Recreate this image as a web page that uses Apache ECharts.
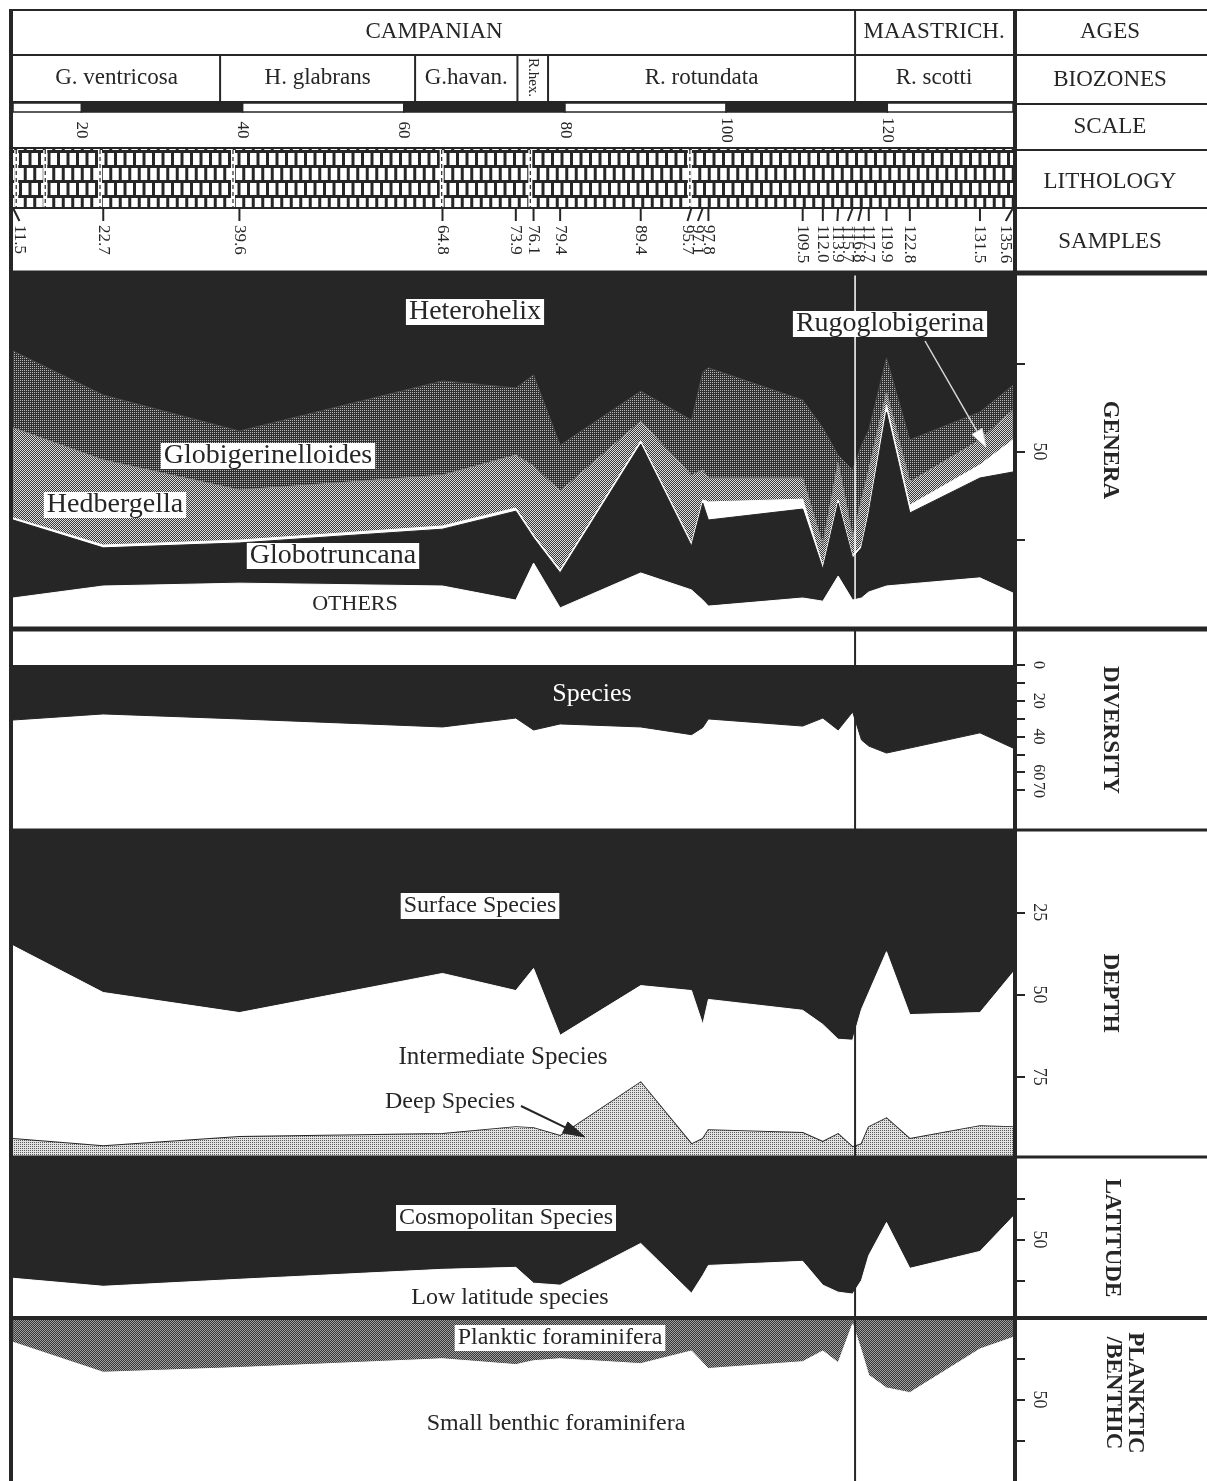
<!DOCTYPE html>
<html>
<head>
<meta charset="utf-8">
<title>Campanian - Maastrichtian planktic foraminifera</title>
<script src="https://cdn.jsdelivr.net/npm/echarts@6/dist/echarts.min.js"></script>
<style>
html, body { margin: 0; padding: 0; background: #fff; }
#chart { width: 1207px; height: 1481px; }
</style>
</head>
<body>
<div id="chart"></div>
<script>
var X_MIN = 11.5, X_MAX = 135.6;
var INK = '#262626';
var SERIF = '"Liberation Serif", "DejaVu Serif", serif';

// sample levels (m)
var samples = [11.5, 22.7, 39.6, 64.8, 73.9, 76.1, 79.4, 89.4, 95.7, 97.1, 97.8,
  109.5, 112.0, 113.9, 115.7, 116.8, 117.7, 119.9, 122.8, 131.5, 135.6];

// header rows
var ageNames = ['CAMPANIAN', 'MAASTRICH.'];
var ageLimits = [11.5, 116.0, 135.6];
var zoneNames = ['G. ventricosa', 'H. glabrans', 'G.havan.', 'R.hex.', 'R. rotundata', 'R. scotti'];
var zoneLimits = [11.5, 37.2, 61.4, 74.1, 77.9, 116.0, 135.6];
var scaleTicks = [20, 40, 60, 80, 100, 120];
var marlLevels = [11.9, 15.5, 22.3, 38.8, 64.7, 75.7, 95.5];
var boundary = 116.0;

// genera (%)
var heterohelix = [21.5, 34.0, 44.2, 30.0, 32.0, 28.3, 48.2, 32.9, 41.1, 27.5, 26.3, 35.4, 43.3, 51.0, 55.2, 48.2, 43.9, 23.5, 46.7, 38.8, 31.2];
var globigerinelloides = [21.8, 18.4, 16.7, 26.7, 19.0, 25.8, 13.0, 8.5, 15.6, 27.7, 31.2, 22.1, 33.2, 2.0, 19.3, 15.5, 11.3, 9.6, 11.9, 7.9, 7.0];
var hedbergella = [25.5, 24.1, 14.2, 14.4, 15.0, 19.6, 22.4, 5.6, 19.2, 8.5, 6.8, 6.0, 5.9, 10.7, 5.1, 12.8, 11.4, 3.7, 6.6, 7.1, 8.5];
var rugoglobigerina = [0.6, 0.8, 0.8, 0.9, 0.9, 0.8, 0.8, 0.9, 0.9, 0.9, 5.1, 2.8, 0.9, 0.9, 0.6, 0.8, 1.1, 2.0, 2.2, 3.7, 9.1];
var globotruncana = [22.1, 10.8, 11.4, 16.1, 25.2, 7.1, 9.9, 36.5, 12.4, 27.5, 24.4, 25.2, 9.1, 20.7, 11.9, 14.2, 22.1, 49.3, 20.1, 28.3, 34.3];
var othersGenera = [8.5, 11.9, 12.7, 11.9, 7.9, 18.4, 5.7, 15.6, 10.8, 7.9, 6.2, 8.5, 7.6, 14.7, 7.9, 8.5, 10.2, 11.9, 12.5, 14.2, 9.9];

// diversity (number of species)
var diversity = [30.8, 27.4, 30.2, 34.7, 29.7, 36.4, 33.0, 34.7, 39.0, 35.0, 30.2, 34.2, 29.7, 36.4, 26.3, 42.0, 45.4, 49.3, 46.5, 38.0, 46.5];

// depth habitat (%)
var surfaceSpecies = [35.2, 49.4, 55.5, 43.6, 48.8, 42.1, 62.4, 47.3, 48.8, 59.1, 51.5, 54.8, 59.1, 63.6, 63.9, 54.5, 49.4, 37.0, 56.1, 55.5, 43.3];
var intermediateSpecies = [58.7, 46.7, 37.8, 48.8, 41.5, 48.5, 30.6, 29.4, 46.7, 34.8, 39.7, 37.3, 35.7, 28.8, 32.5, 41.0, 40.9, 50.6, 37.8, 34.5, 47.0];
var deepSpecies = [6.1, 3.9, 6.7, 7.6, 9.7, 9.4, 7.0, 23.3, 4.5, 6.1, 8.8, 7.9, 5.2, 7.6, 3.6, 4.5, 9.7, 12.4, 6.1, 10.0, 9.7];

// latitude (%)
var cosmopolitan = [73.8, 78.7, 74.4, 68.3, 67.1, 76.8, 78.0, 52.4, 82.9, 72.0, 65.9, 63.4, 78.0, 82.3, 83.5, 75.0, 59.8, 39.6, 67.7, 57.3, 36.0];
var lowLatitude = [26.2, 21.3, 25.6, 31.7, 32.9, 23.2, 22.0, 47.6, 17.1, 28.0, 34.1, 36.6, 22.0, 17.7, 16.5, 25.0, 40.2, 60.4, 32.3, 42.7, 64.0];

// planktic / benthic (%)
var planktic = [14.9, 33.3, 30.4, 25.0, 28.6, 26.2, 25.0, 28.0, 20.2, 27.4, 31.0, 26.8, 20.2, 27.4, 3.6, 20.2, 35.1, 42.9, 45.8, 19.0, 11.9];
var benthic = [85.1, 66.7, 69.6, 75.0, 71.4, 73.8, 75.0, 72.0, 79.8, 72.6, 69.0, 73.2, 79.8, 72.6, 96.4, 79.8, 64.9, 57.1, 54.2, 81.0, 88.1];

// ---- fills ----
function pattern(w, h, paint) {
  var c = document.createElement('canvas');
  c.width = w; c.height = h;
  paint(c.getContext('2d'));
  return { image: c, repeat: 'repeat' };
}
function dots(bg, fg, cells) {
  return pattern(2, 2, function (ctx) {
    ctx.fillStyle = bg; ctx.fillRect(0, 0, 2, 2);
    ctx.fillStyle = fg;
    cells.forEach(function (p) { ctx.fillRect(p[0], p[1], 1, 1); });
  });
}
var globPat = dots('#303030', '#b8b8b8', [[0, 0]]);
var hedbPat = dots('#3a3a3a', '#dcdcdc', [[0, 0], [1, 1]]);
var deepPat = dots('#e2e2e2', '#5a5a5a', [[0, 0]]);
var plankPat = dots('#363636', '#a0a0a0', [[0, 0], [1, 1]]);
var brickPat = pattern(19, 30, function (ctx) {
  ctx.fillStyle = '#fff'; ctx.fillRect(0, 0, 19, 30);
  ctx.fillStyle = INK;
  ctx.fillRect(0, 0, 19, 3); ctx.fillRect(0, 15, 19, 3);
  ctx.fillRect(0, 0, 3, 15); ctx.fillRect(9.5, 0, 3, 15);
  ctx.fillRect(4.75, 15, 3, 15); ctx.fillRect(14.25, 15, 3, 15);
});

// sample labels pushed apart where levels crowd
var GAP = 1.3;
var sampleLabelAt = samples.slice();
sampleLabelAt[0] = Math.max(samples[0], X_MIN + 0.8);
sampleLabelAt[samples.length - 1] = Math.min(samples[samples.length - 1], X_MAX - 0.9);
for (var i = samples.length - 2; i >= 0; i--) {
  sampleLabelAt[i] = Math.min(sampleLabelAt[i], sampleLabelAt[i + 1] - GAP);
}

// grid rows
var rows = [
  { top: 10, h: 45 },    // 0 ages
  { top: 55, h: 47 },    // 1 biozones
  { top: 103, h: 9 },    // 2 scale bar
  { top: 112, h: 36 },   // 3 scale labels
  { top: 148, h: 60 },   // 4 lithology
  { top: 208, h: 64 },   // 5 samples
  { top: 275, h: 353 },  // 6 genera
  { top: 665, h: 125 },  // 7 diversity
  { top: 830, h: 329 },  // 8 depth
  { top: 1158, h: 163 }, // 9 latitude
  { top: 1318, h: 165 }, // 10 planktic / benthic
  { top: 630, h: 851 }   // 11 boundary line
];

function hiddenY(i) { return { type: 'value', gridIndex: i, min: 0, max: 1, show: false }; }
function panelY(i, max, ticks, labels, fontSize) {
  return {
    type: 'value', gridIndex: i, min: 0, max: max, inverse: true, position: 'right',
    axisLine: { show: false }, splitLine: { show: false },
    axisTick: { show: true, length: 12, lineStyle: { color: INK, width: 2 }, customValues: ticks },
    axisLabel: { show: true, rotate: -90, margin: 17, color: INK, fontFamily: 'Liberation Serif',
      fontSize: fontSize || 18, customValues: labels }
  };
}

// stacked bands drawn as polygons between cumulative boundaries
function stackedPanel(g, bands) {
  var cum = [samples.map(function () { return 0; })];
  bands.forEach(function (b, k) {
    cum.push(cum[k].map(function (c, i) { return c + b.vals[i]; }));
  });
  return {
    type: 'custom', xAxisIndex: g, yAxisIndex: g, silent: true, clip: true,
    encode: { x: 0, y: 1 },
    data: bands.map(function () { return [X_MIN, 0]; }),
    renderItem: function (params, api) {
      var k = params.dataIndex, b = bands[k];
      var upper = samples.map(function (s, i) { return api.coord([s, cum[k][i]]); });
      var lower = samples.map(function (s, i) { return api.coord([s, cum[k + 1][i]]); });
      var kids = [{ type: 'polygon', shape: { points: upper.concat(lower.slice().reverse()) },
        style: { fill: b.fill, stroke: b.seam, lineWidth: 1 } }];
      if (b.edge) {
        kids.push({ type: 'polyline', shape: { points: lower },
          style: { stroke: b.edge, lineWidth: b.edgeW, fill: null } });
      }
      return { type: 'group', children: kids };
    }
  };
}

function cells(limits) {
  return limits.slice(0, -1).map(function (v, i) { return [v, limits[i + 1], 0]; });
}
function cellSeries(g, names, limits, fontSize) {
  return {
    type: 'custom', xAxisIndex: g, yAxisIndex: g, silent: true,
    encode: { x: [0, 1], y: 2 },
    data: cells(limits),
    renderItem: function (params, api) {
      var cs = params.coordSys;
      var x0 = api.coord([api.value(0), 0])[0];
      var x1 = api.coord([api.value(1), 0])[0];
      var narrow = x1 - x0 < 40;
      var kids = [];
      if (params.dataIndex > 0) {
        kids.push({ type: 'line', shape: { x1: x0, y1: cs.y, x2: x0, y2: cs.y + cs.height },
          style: { stroke: INK, lineWidth: 2 } });
      }
      kids.push({ type: 'text', x: (x0 + x1) / 2, y: cs.y + cs.height / 2 - 1,
        rotation: narrow ? -Math.PI / 2 : 0,
        style: { text: names[params.dataIndex], font: (narrow ? 15 : fontSize) + 'px ' + SERIF, fill: INK,
          align: 'center', verticalAlign: 'middle', textAlign: 'center', textVerticalAlign: 'middle' } });
      return { type: 'group', children: kids };
    }
  };
}

function boundarySeries(g, color, width, z) {
  return {
    type: 'custom', xAxisIndex: g, yAxisIndex: g, silent: true, z: z,
    data: [[boundary, 0]],
    renderItem: function (params, api) {
      var cs = params.coordSys;
      var x = api.coord([api.value(0), 0])[0];
      return { type: 'line', shape: { x1: x, y1: cs.y, x2: x, y2: cs.y + cs.height },
        style: { stroke: color, lineWidth: width } };
    }
  };
}

var scaleCells = cells([X_MIN].concat(scaleTicks).concat([X_MAX]));

var series = [
  cellSeries(0, ageNames, ageLimits, 23),
  cellSeries(1, zoneNames, zoneLimits, 23),
  {
    type: 'custom', xAxisIndex: 2, yAxisIndex: 2, silent: true,
    encode: { x: [0, 1], y: 2 }, data: scaleCells,
    renderItem: function (params, api) {
      var cs = params.coordSys;
      var x0 = api.coord([api.value(0), 0])[0];
      var x1 = api.coord([api.value(1), 0])[0];
      var dark = params.dataIndex % 2 === 1;
      return { type: 'rect', shape: { x: x0, y: cs.y, width: x1 - x0, height: cs.height },
        style: { fill: dark ? INK : '#fff', stroke: INK, lineWidth: 1.5 } };
    }
  },
  {
    type: 'custom', xAxisIndex: 3, yAxisIndex: 3, silent: true,
    data: scaleTicks.map(function (v) { return [v, 0]; }),
    renderItem: function (params, api) {
      var cs = params.coordSys;
      var x = api.coord([api.value(0), 0])[0];
      return { type: 'text', x: x, y: cs.y + cs.height / 2, rotation: -Math.PI / 2,
        style: { text: String(scaleTicks[params.dataIndex]), font: '17px ' + SERIF, fill: INK,
          align: 'center', verticalAlign: 'middle', textAlign: 'center', textVerticalAlign: 'middle' } };
    }
  },
  {
    type: 'custom', xAxisIndex: 4, yAxisIndex: 4, silent: true,
    encode: { x: [0, 1], y: 2 }, data: [[X_MIN, X_MAX, 0]],
    renderItem: function (params, api) {
      var cs = params.coordSys;
      var x0 = api.coord([api.value(0), 0])[0];
      var x1 = api.coord([api.value(1), 0])[0];
      return { type: 'rect', shape: { x: x0, y: cs.y, width: x1 - x0, height: cs.height },
        style: { fill: brickPat } };
    }
  },
  {
    type: 'custom', xAxisIndex: 4, yAxisIndex: 4, silent: true,
    data: marlLevels.map(function (v) { return [v, 0]; }),
    renderItem: function (params, api) {
      var cs = params.coordSys;
      var x = api.coord([api.value(0), 0])[0];
      return { type: 'group', children: [
        { type: 'rect', shape: { x: x - 2, y: cs.y + 2, width: 4, height: cs.height - 2 }, style: { fill: '#fff' } },
        { type: 'line', shape: { x1: x, y1: cs.y + 2, x2: x, y2: cs.y + cs.height },
          style: { stroke: INK, lineWidth: 1.2, lineDash: [4, 3] } }
      ] };
    }
  },
  {
    type: 'custom', xAxisIndex: 5, yAxisIndex: 5, silent: true,
    encode: { x: [0, 1], y: 2 },
    data: samples.map(function (s, i) { return [s, sampleLabelAt[i], 0]; }),
    renderItem: function (params, api) {
      var cs = params.coordSys;
      var x0 = api.coord([api.value(0), 0])[0];
      var x1 = api.coord([api.value(1), 0])[0];
      return { type: 'group', children: [
        { type: 'line', shape: { x1: x0, y1: cs.y, x2: x1, y2: cs.y + 13 }, style: { stroke: INK, lineWidth: 2 } },
        { type: 'text', x: x1, y: cs.y + 17, rotation: -Math.PI / 2,
          style: { text: samples[params.dataIndex].toFixed(1), font: '17px ' + SERIF, fill: INK,
            align: 'left', verticalAlign: 'middle', textAlign: 'left', textVerticalAlign: 'middle' } }
      ] };
    }
  },

  stackedPanel(6, [
    { vals: heterohelix, fill: INK, seam: INK },
    { vals: globigerinelloides, fill: globPat, seam: '#4a4a4a' },
    { vals: hedbergella, fill: hedbPat, seam: '#8b8b8b' },
    { vals: rugoglobigerina, fill: '#ffffff', seam: '#ffffff' },
    { vals: globotruncana, fill: INK, seam: INK },
    { vals: othersGenera, fill: '#ffffff', seam: '#ffffff' }
  ]),
  stackedPanel(7, [{ vals: diversity, fill: INK, seam: INK }]),
  stackedPanel(8, [
    { vals: surfaceSpecies, fill: INK, seam: INK },
    { vals: intermediateSpecies, fill: '#ffffff', seam: '#ffffff', edge: INK, edgeW: 1.8 },
    { vals: deepSpecies, fill: deepPat, seam: null }
  ]),
  stackedPanel(9, [
    { vals: cosmopolitan, fill: INK, seam: INK },
    { vals: lowLatitude, fill: '#ffffff', seam: '#ffffff' }
  ]),
  stackedPanel(10, [
    { vals: planktic, fill: plankPat, seam: '#666666' },
    { vals: benthic, fill: '#ffffff', seam: '#ffffff' }
  ]),

  boundarySeries(11, INK, 2, 5),
  boundarySeries(6, '#ffffff', 1.5, 6)
];

var yAxes = [hiddenY(0), hiddenY(1), hiddenY(2), hiddenY(3), hiddenY(4), hiddenY(5),
  panelY(6, 100, [25, 50, 75], [50]),
  panelY(7, 70, [0, 10, 20, 30, 40, 50, 60, 70], [0, 20, 40, 60, 70], 16),
  panelY(8, 100, [25, 50, 75], [25, 50, 75]),
  panelY(9, 100, [25, 50, 75], [50]),
  panelY(10, 100, [25, 50, 75], [50]),
  hiddenY(11)];

// ---- frame, titles and notes ----
var frame = [
  [9, 10, 1207, 10, 2], [9, 55, 1207, 55, 2],
  [9, 102, 1015, 102, 2], [1015, 104, 1207, 104, 2],
  [9, 148, 1015, 148, 2], [1015, 150, 1207, 150, 2],
  [9, 208, 1207, 208, 2], [9, 273, 1207, 273, 5],
  [9, 629, 1207, 629, 5], [9, 830, 1207, 830, 3],
  [9, 1157, 1207, 1157, 3], [9, 1318, 1207, 1318, 4],
  [11, 9, 11, 1481, 4], [1015, 9, 1015, 1481, 4]
];
var rowTitles = [['AGES', 32], ['BIOZONES', 80], ['SCALE', 127], ['LITHOLOGY', 182], ['SAMPLES', 242]];
var panelTitles = [['GENERA', 1110, 450], ['DIVERSITY', 1110, 730], ['DEPTH', 1110, 993],
  ['LATITUDE', 1112, 1238], ['PLANKTIC\n/BENTHIC', 1124, 1393]];
var notes = [
  ['Heterohelix', 475, 312, 28, true, INK],
  ['Rugoglobigerina', 890, 324, 28, true, INK],
  ['Globigerinelloides', 268, 456, 28, true, INK],
  ['Hedbergella', 115, 505, 28, true, INK],
  ['Globotruncana', 333, 556, 28, true, INK],
  ['OTHERS', 355, 604, 22, false, INK],
  ['Species', 592, 694, 26, false, '#ffffff'],
  ['Surface Species', 480, 906, 24, true, INK],
  ['Intermediate Species', 503, 1057, 25, false, INK],
  ['Deep Species', 450, 1102, 24, false, INK],
  ['Cosmopolitan Species', 506, 1218, 24, true, INK],
  ['Low latitude species', 510, 1298, 24, false, INK],
  ['Planktic foraminifera', 560, 1338, 24, true, INK],
  ['Small benthic foraminifera', 556, 1424, 24, false, INK]
];

function txt(t, x, y, font, fill, rot, box) {
  var st = { text: t, font: font, fill: fill, align: 'center', verticalAlign: 'middle',
    textAlign: 'center', textVerticalAlign: 'middle', lineHeight: 22 };
  if (box) { st.backgroundColor = '#fff'; st.padding = [3, 3, 1, 3]; }
  return { type: 'text', x: x, y: y, z: 100, rotation: rot || 0, silent: true, style: st };
}
function arrow(x1, y1, x2, y2, lineCol, headCol, lw, len, wid) {
  var a = Math.atan2(y2 - y1, x2 - x1);
  var bx = x2 - len * Math.cos(a), by = y2 - len * Math.sin(a);
  var nx = -Math.sin(a) * wid / 2, ny = Math.cos(a) * wid / 2;
  return [
    { type: 'line', z: 100, silent: true, shape: { x1: x1, y1: y1, x2: bx, y2: by }, style: { stroke: lineCol, lineWidth: lw } },
    { type: 'polygon', z: 100, silent: true, shape: { points: [[x2, y2], [bx + nx, by + ny], [bx - nx, by - ny]] },
      style: { fill: headCol, stroke: lineCol, lineWidth: 1 } }
  ];
}

var elements = [];
frame.forEach(function (f) {
  elements.push({ type: 'line', z: 50, silent: true, shape: { x1: f[0], y1: f[1], x2: f[2], y2: f[3] },
    style: { stroke: INK, lineWidth: f[4] } });
});
rowTitles.forEach(function (r) { elements.push(txt(r[0], 1110, r[1], '23px ' + SERIF, INK)); });
panelTitles.forEach(function (p) { elements.push(txt(p[0], p[1], p[2], 'bold 23px ' + SERIF, INK, -Math.PI / 2)); });
notes.forEach(function (n) { elements.push(txt(n[0], n[1], n[2], n[3] + 'px ' + SERIF, n[5], 0, n[4])); });
elements = elements.concat(arrow(925, 341, 986, 447, '#d8d8d8', '#ffffff', 1.5, 18, 12));
elements = elements.concat(arrow(521, 1106, 585, 1137, INK, INK, 2, 22, 12));

var chart = echarts.init(document.getElementById('chart'), null, { renderer: 'canvas' });
chart.setOption({
  animation: false,
  backgroundColor: '#fff',
  grid: rows.map(function (r) { return { left: 13, width: 1000, top: r.top, height: r.h }; }),
  xAxis: rows.map(function (r, i) { return { type: 'value', gridIndex: i, min: X_MIN, max: X_MAX, show: false }; }),
  yAxis: yAxes,
  series: series,
  graphic: { elements: elements }
});
</script>
</body>
</html>
